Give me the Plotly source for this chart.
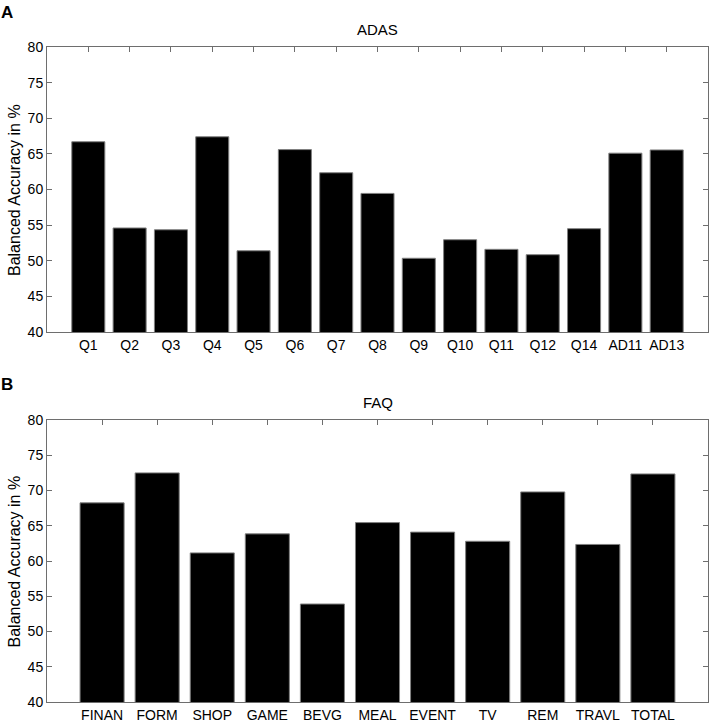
import plotly.graph_objects as go
from plotly.subplots import make_subplots

adas_labels = ["Q1", "Q2", "Q3", "Q4", "Q5", "Q6", "Q7", "Q8", "Q9", "Q10",
               "Q11", "Q12", "Q14", "AD11", "AD13"]
adas_values = [66.7, 54.6, 54.35, 67.4, 51.4, 65.6, 62.35, 59.45, 50.35, 52.95,
               51.6, 50.85, 54.5, 65.1, 65.55]

faq_labels = ["FINAN", "FORM", "SHOP", "GAME", "BEVG", "MEAL", "EVENT", "TV",
              "REM", "TRAVL", "TOTAL"]
faq_values = [68.25, 72.5, 61.15, 63.85, 53.9, 65.45, 64.1, 62.8, 69.8, 62.35, 72.35]

y_ticks = [40, 45, 50, 55, 60, 65, 70, 75, 80]

FONT = "Liberation Sans, Arial, Helvetica, sans-serif"
AXC = "#6e6e6e"

fig = make_subplots(rows=2, cols=1, vertical_spacing=0.0)

fig.add_trace(go.Bar(x=adas_labels, y=adas_values, width=0.8,
                     marker=dict(color="black", line=dict(color="#808080", width=1)),
                     showlegend=False), row=1, col=1)
fig.add_trace(go.Bar(x=faq_labels, y=faq_values, width=0.8,
                     marker=dict(color="black", line=dict(color="#808080", width=1)),
                     showlegend=False), row=2, col=1)

common_x = dict(showline=True, linecolor=AXC, linewidth=1, mirror="ticks",
                ticks="inside", ticklen=5, tickcolor=AXC, tickwidth=1,
                showgrid=False, zeroline=False, layer="below traces",
                automargin=False, ticklabelstandoff=0,
                tickfont=dict(size=14, color="black", family=FONT))
common_y = dict(showline=True, linecolor=AXC, linewidth=1, mirror="ticks",
                ticks="inside", ticklen=5, tickcolor=AXC, tickwidth=1,
                showgrid=False, zeroline=False, layer="below traces",
                automargin=False,
                range=[40, 80], tickvals=y_ticks,
                tickfont=dict(size=14, color="black", family=FONT))

fig.update_xaxes(common_x)
fig.update_yaxes(common_y)
fig.update_xaxes(range=[-1, len(adas_labels)], domain=[0, 1], row=1, col=1)
fig.update_xaxes(range=[-1, len(faq_labels)], domain=[0, 1], row=2, col=1)
fig.update_yaxes(domain=[0.5649, 1.0], row=1, col=1)
fig.update_yaxes(domain=[0.0, 0.4305], row=2, col=1)

ann = dict(xref="paper", yref="paper", showarrow=False, xanchor="center", yanchor="middle")
fig.update_layout(
    width=711, height=722,
    margin=dict(l=47, r=3, t=47, b=20),
    paper_bgcolor="white", plot_bgcolor="white",
    annotations=[
        dict(ann, x=0.5, y=1.026, text="ADAS", font=dict(size=15, family=FONT, color="black")),
        dict(ann, x=0.5, y=0.4565, text="FAQ", font=dict(size=15, family=FONT, color="black")),
        dict(ann, x=-0.0605, y=1.0534, text="<b>A</b>", font=dict(size=17, family=FONT, color="black")),
        dict(ann, x=-0.0605, y=0.484, text="<b>B</b>", font=dict(size=17, family=FONT, color="black")),
        dict(ann, x=-0.0492, y=0.7824, text="Balanced Accuracy in %", textangle=-90,
             font=dict(size=16, family=FONT, color="black")),
        dict(ann, x=-0.0492, y=0.2153, text="Balanced Accuracy in %", textangle=-90,
             font=dict(size=16, family=FONT, color="black")),
    ],
)

fig.write_html("out.html", config={"displayModeBar": False},
               post_script="document.body.style.margin='0';document.body.style.padding='0';")
